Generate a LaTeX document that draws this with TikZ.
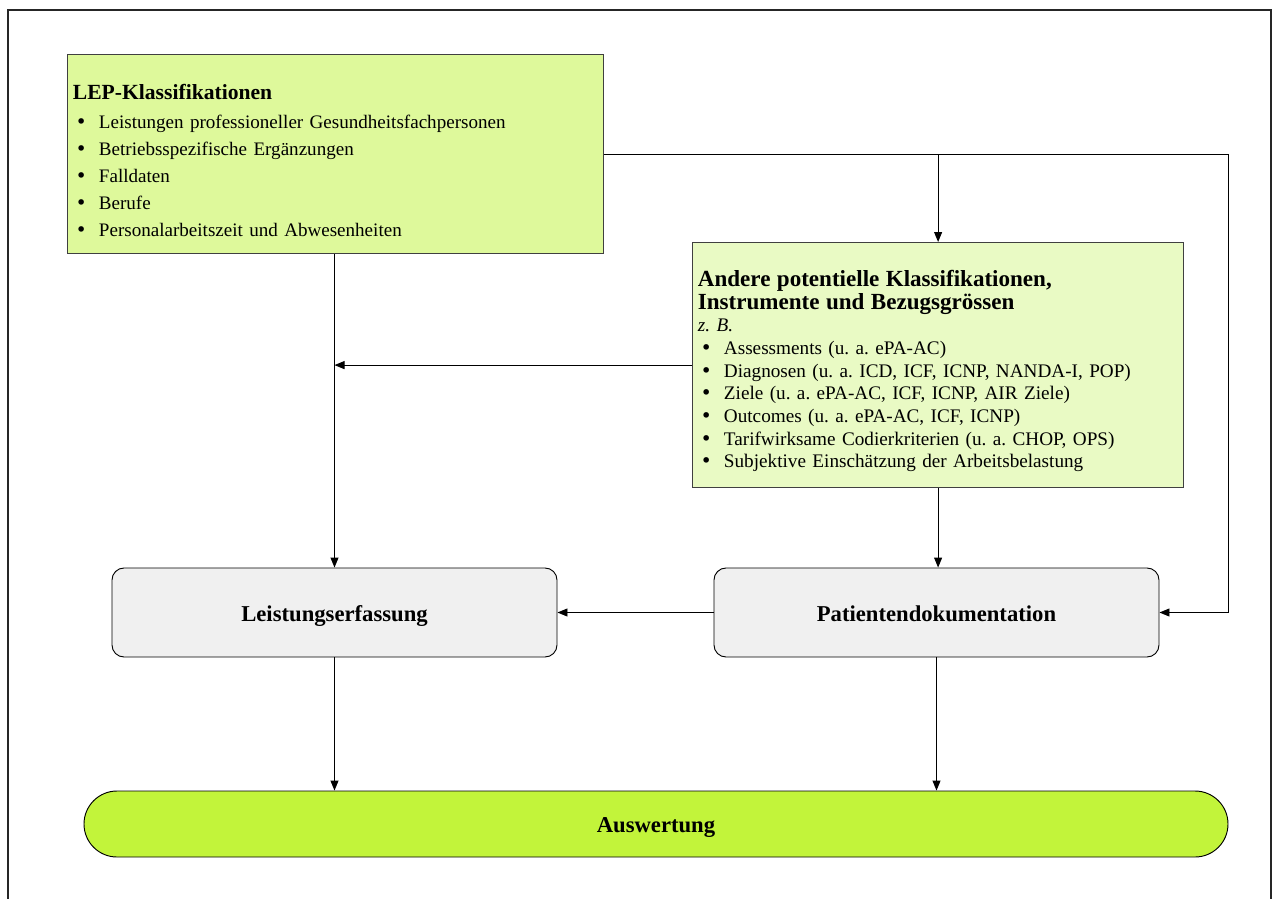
\documentclass[tikz,border=0pt]{standalone}
\usepackage{fontspec}
\setmainfont{Liberation Serif}
\newfontfamily\bulletfont{DejaVu Sans}
\usetikzlibrary{arrows.meta,calc}
\definecolor{lepgreen}{HTML}{DEF99B}
\definecolor{othergreen}{HTML}{E9FAC4}
\definecolor{evalgreen}{HTML}{C2F43A}
\definecolor{boxgrey}{HTML}{F0F0F0}
\newcommand{\itm}[1]{\hspace*{2pt}\makebox[17.5pt][l]{\bulletfont •}#1}

\begin{document}
\frenchspacing
\begin{tikzpicture}[x=0.75pt,y=-0.75pt,
		klass/.style={draw=black!75,line width=0.9pt,anchor=north west,align=left,inner xsep=4pt,inner ysep=0pt},
		erfass/.style={draw,fill=boxgrey,line width=0.7pt,rounded corners=9pt,minimum width=333.75pt,minimum height=66.75pt,text height=17pt,text depth=2.8pt,font=\fontsize{17}{20}\selectfont\bfseries},
		pfeil/.style={-{Triangle[length=7.5pt,width=6pt]},line width=0.7pt}]
		\useasboundingbox (0,0) rectangle (1274,899);
		\draw[line width=1.5pt,black!85] (8,899) -- (8,10) -- (1271,10) -- (1271,899);
		\node[klass,fill=lepgreen,minimum width=402pt,minimum height=149.25pt,text width=394pt,font=\fontsize{14.3}{20.25}\selectfont] (lep) at (67,54) {%
			{\fontsize{16.2}{20.25}\selectfont\bfseries\rule{0pt}{21pt}LEP-Klassifikationen}\\[1pt]
			\itm{Leistungen professioneller Gesundheitsfachpersonen}\\
			\itm{Betriebsspezifische Ergänzungen}\\
			\itm{Falldaten}\\
			\itm{Berufe}\\
			\itm{Personalarbeitszeit und Abwesenheiten}};
		\node[klass,fill=othergreen,minimum width=368.25pt,minimum height=183.75pt,text width=360.25pt,font=\fontsize{14.4}{17}\selectfont] (andere) at (692,242) {%
			{\fontsize{17.3}{19}\selectfont\bfseries\rule{0pt}{21pt}Andere potentielle Klassifikationen,\\ Instrumente und Bezugsgrössen}\\
			\textit{z. B.}\\
			\itm{Assessments (u. a. ePA-AC)}\\
			\itm{Diagnosen (u. a. ICD, ICF, ICNP, NANDA-I, POP)}\\
			\itm{Ziele (u. a. ePA-AC, ICF, ICNP, AIR Ziele)}\\
			\itm{Outcomes (u. a. ePA-AC, ICF, ICNP)}\\
			\itm{Tarifwirksame Codierkriterien (u. a. CHOP, OPS)}\\
			\itm{Subjektive Einschätzung der Arbeitsbelastung}};
		\node[erfass] (lerf) at (334.5,612.5) {Leistungserfassung};
		\node[erfass] (pdok) at (936.5,612.5) {Patientendokumentation};
		\node[draw,fill=evalgreen,line width=0.7pt,rounded corners=24.75pt,minimum width=858pt,minimum height=49.5pt,text height=15pt,text depth=3pt,font=\fontsize{17}{20}\selectfont\bfseries] (ausw) at (656,824) {Auswertung};
		% Verbindungen
		\draw[pfeil] (lep.south -| lerf.north) -- (lerf.north);
		\draw[pfeil] (lep.east) -- (lep.east -| ausw.east) |- (pdok.east);
		\draw[pfeil] (lep.east -| andere.north) -- (andere.north);
		\draw[pfeil] (andere.west) -- (andere.west -| lerf.north);
		\draw[pfeil] (andere.south) -- (andere.south |- pdok.north);
		\draw[pfeil] (pdok.west) -- (lerf.east);
		\draw[pfeil] (lerf.south) -- (lerf.south |- ausw.north);
		\draw[pfeil] (pdok.south) -- (pdok.south |- ausw.north);
	\end{tikzpicture}
\end{document}
